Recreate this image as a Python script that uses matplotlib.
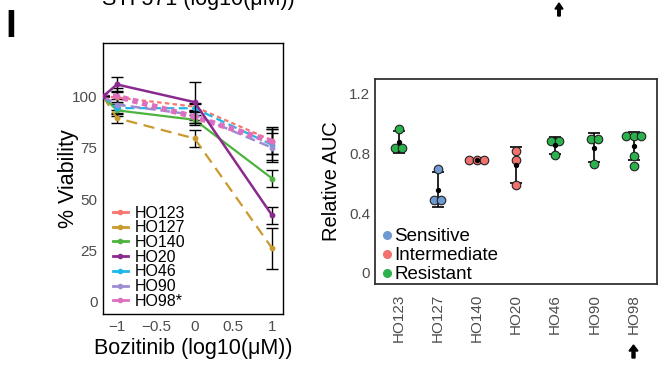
import numpy as np
import matplotlib.pyplot as plt
from matplotlib.lines import Line2D
from matplotlib.patches import FancyArrow
from matplotlib.transforms import IdentityTransform

plt.rcParams['font.family'] = ['Liberation Sans', 'DejaVu Sans']

# ---- left panel: dose response ----
lines = ['HO123', 'HO127', 'HO140', 'HO20', 'HO46', 'HO90', 'HO98*']
dose = [-1.18, -1, 0, 1]
viab = {
    'HO123': [100, 99.5, 95, 78.5],
    'HO127': [100, 89.4, 79.5, 26],
    'HO140': [100, 93.2, 88.6, 60],
    'HO20':  [100, 105.8, 97.2, 42],
    'HO46':  [100, 94.3, 94.2, 76.4],
    'HO90':  [100, 96, 91, 75],
    'HO98*': [100, 100, 90, 78],
}
viab_sd = {
    'HO123': [0, 3, 2, 6.5],
    'HO127': [0, 2.5, 4, 10],
    'HO140': [0, 3, 2.5, 4],
    'HO20':  [0, 3.5, 10, 4],
    'HO46':  [0, 3, 2, 7.5],
    'HO90':  [0, 2.5, 2.5, 7],
    'HO98*': [0, 4, 3, 6],
}
line_col = ['#F8766D', '#C99A2E', '#4DB33E', '#8B2A8E', '#1DB7E8', '#9C8DD5', '#DE6FBE']
line_ls = [(0, (2, 1.5)), (0, (5, 3)), '-', '-', (0, (4, 2)), (0, (4, 2)), (0, (1, 0.8))]
line_lw = [1.6, 1.6, 1.6, 1.8, 1.6, 1.8, 4.0]

# ---- right panel: relative AUC ----
models = ['HO123', 'HO127', 'HO140', 'HO20', 'HO46', 'HO90', 'HO98']
auc = [
    [0.965, 0.835, 0.835],
    [0.694, 0.488, 0.488],
    [0.756, 0.756, 0.756],
    [0.819, 0.756, 0.586],
    [0.886, 0.886, 0.79],
    [0.895, 0.895, 0.727],
    [0.917, 0.917, 0.917, 0.783, 0.716],
]
response = ['Resistant', 'Sensitive', 'Intermediate', 'Intermediate', 'Resistant', 'Resistant', 'Resistant']
resp_col = {'Sensitive': '#6F99D3', 'Intermediate': '#F0716D', 'Resistant': '#2BB24C'}

fig = plt.figure(figsize=(6.68, 3.72), dpi=100)
grey = '#4D4D4D'

ax1 = fig.add_axes([103/668, 1-314/372, 180/668, 271/372])
for i, name in enumerate(lines):
    ax1.errorbar(dose, viab[name], yerr=viab_sd[name], color=line_col[i], ls=line_ls[i],
                 lw=line_lw[i], marker='o', ms=3.2, ecolor='black', elinewidth=1,
                 capsize=4, capthick=1, zorder=3 if name == 'HO20' else 2)
ax1.set_xlim(-1.18, 1.14)
ax1.set_ylim(-6, 126)
ax1.set_xticks([-1, -0.5, 0, 0.5, 1])
ax1.set_xticklabels(['\u22121', '\u22120.5', '0', '0.5', '1'])
ax1.set_yticks([0, 25, 50, 75, 100])
ax1.tick_params(length=0, labelsize=11, labelcolor=grey, pad=4)
ax1.set_xlabel('Bozitinib (log10(\u03bcM))', fontsize=15.5, labelpad=3)
ax1.set_ylabel('% Viability', fontsize=15.5, labelpad=-5)
for s in ax1.spines.values():
    s.set_linewidth(1)
handles = [Line2D([], [], color=c, lw=2, marker='o', ms=3) for c in line_col]
ax1.legend(handles, lines, loc='lower left', bbox_to_anchor=(-0.005, -0.022), frameon=False,
           fontsize=11.5, handlelength=0.9, handletextpad=0.45, labelspacing=-0.02,
           borderpad=0.2)

ax2 = fig.add_axes([375/668, 1-284/372, 282/668, 205/372])
for i, vals in enumerate(auc):
    vals = np.array(vals)
    # dodge identical values side by side
    xs = np.zeros(len(vals))
    keys = np.round(vals, 2)
    for k in np.unique(keys):
        idx = np.where(keys == k)[0]
        xs[idx] = (np.arange(len(idx)) - (len(idx) - 1) / 2) * 0.19
    m, sd = vals.mean(), vals.std(ddof=1)
    ax2.errorbar(i, m, yerr=sd, color='black', lw=1.2, capsize=4, capthick=1.2, zorder=2)
    ax2.scatter(i + xs, vals, s=38, color=resp_col[response[i]], edgecolor='#222222',
                linewidth=0.8, zorder=3)
    ax2.scatter([i], [m], s=8, color='black', zorder=4)
ax2.set_xlim(-0.6, 6.6)
ax2.set_ylim(-0.076, 1.30)
ax2.set_xticks(range(len(models)))
ax2.set_xticklabels(models, rotation=90)
ax2.set_yticks([0, 0.4, 0.8, 1.2])
ax2.set_yticklabels(['0', '0.4', '0.8', '1.2'])
ax2.tick_params(length=0, labelsize=11, labelcolor=grey)
ax2.tick_params(axis='x', pad=7)
ax2.set_ylabel('Relative AUC', fontsize=14.5, labelpad=6)
for s in ax2.spines.values():
    s.set_linewidth(1.3)
    s.set_color('#333333')
rh = [Line2D([], [], ls='', marker='o', ms=5.5, color=resp_col[r]) for r in resp_col]
ax2.legend(rh, list(resp_col), loc='lower left', bbox_to_anchor=(-0.022, -0.06), frameon=False,
           fontsize=13.5, handlelength=0.5, handletextpad=0.15, labelspacing=0.1, borderpad=0.2)

# arrows marking HO98 (display pixels, origin bottom-left)
fig.canvas.draw()
x98 = ax2.transData.transform((6, 0))[0]
fig.patches.append(FancyArrow(x98, 372-358, 0, 13, width=3, head_width=9, head_length=6,
                              length_includes_head=True, color='black',
                              transform=IdentityTransform()))
fig.patches.append(FancyArrow(559, 372-16, 0, 13, width=2.5, head_width=8, head_length=6,
                              length_includes_head=True, color='black',
                              transform=IdentityTransform()))

fig.text(0.008, 1-37/372, 'I', fontsize=28, fontweight='bold', va='baseline')
fig.text(198/668, 1-5/372, 'STI 571 (log10(\u03bcM))', fontsize=15.5, ha='center', va='baseline')

fig.savefig('out.png', dpi=100)
